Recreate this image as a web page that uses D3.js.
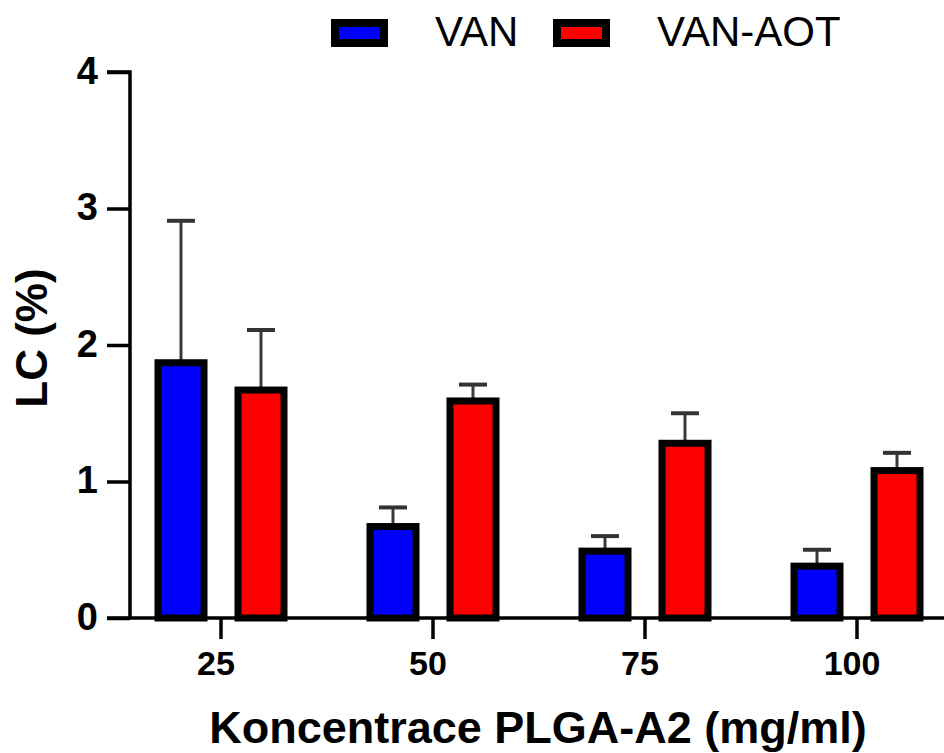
<!DOCTYPE html>
<html>
<head>
<meta charset="utf-8">
<script src="https://cdn.jsdelivr.net/npm/d3@7"></script>
<style>
	body { margin: 0; background: #fff; }
	svg { display: block; font-family: "Liberation Sans", Arial, sans-serif; }
</style>
</head>
<body>
<svg width="944" height="753"></svg>
<script>

//Chart data
const categories = ["25", "50", "75", "100"];
const series = ["VAN", "VAN-AOT"];
const vanValues = [1.87, 0.67, 0.49, 0.38];
const vanErrors = [1.04, 0.14, 0.11, 0.12];
const aotValues = [1.67, 1.59, 1.28, 1.08];
const aotErrors = [0.44, 0.12, 0.22, 0.13];
const colors = ["#0000ff", "#ff0000"];
const yTicks = [0, 1, 2, 3, 4];

const svg = d3.select('svg');

//Plot frame
const left = 130, baseY = 618, topY = 72;

const x0 = d3.scaleBand()
	.domain(categories)
	.range([115, 963])
	.paddingInner(0);

const x1 = d3.scaleBand()
	.domain(series)
	.range([-66.5, 66.5])
	.paddingInner(0.3375);

const y = d3.scaleLinear()
	.domain([0, 4])
	.range([baseY, topY]);

const rows = [];
categories.forEach(function(c, i) {
	rows.push({cat: c, s: series[0], v: vanValues[i], e: vanErrors[i], color: colors[0]});
	rows.push({cat: c, s: series[1], v: aotValues[i], e: aotErrors[i], color: colors[1]});
});

function cx(d) {
	return x0(d.cat) + x0.bandwidth() / 2 + x1(d.s) + x1.bandwidth() / 2;
}

//Error bars (upper only), drawn under the bars
const err = svg.append('g').attr('class', 'errors');
err.selectAll('line.stem')
	.data(rows)
	.join('line')
	.attr('class', 'stem')
	.attr('x1', cx)
	.attr('x2', cx)
	.attr('y1', d => y(d.v))
	.attr('y2', d => y(d.v + d.e))
	.attr('stroke', '#3a3a3a')
	.attr('stroke-width', 3);
err.selectAll('line.cap')
	.data(rows)
	.join('line')
	.attr('class', 'cap')
	.attr('x1', d => cx(d) - 14)
	.attr('x2', d => cx(d) + 14)
	.attr('y1', d => y(d.v + d.e))
	.attr('y2', d => y(d.v + d.e))
	.attr('stroke', '#333')
	.attr('stroke-width', 4);

//Bars
const barW = x1.bandwidth() - 7;
svg.append('g').attr('class', 'bars')
	.selectAll('rect')
	.data(rows)
	.join('rect')
	.attr('x', d => cx(d) - barW / 2)
	.attr('y', d => y(d.v))
	.attr('width', barW)
	.attr('height', d => y(0) - y(d.v))
	.attr('fill', d => d.color)
	.attr('stroke', '#000')
	.attr('stroke-width', 7);

//Y axis
const yAxis = svg.append('g')
	.attr('transform', 'translate(' + left + ',0)')
	.call(d3.axisLeft(y).tickValues(yTicks).tickFormat(d3.format('d')).tickSize(23).tickPadding(8));
yAxis.select('.domain').attr('d', 'M-23,' + topY + 'H0V' + baseY).attr('stroke-width', 3.5);
yAxis.selectAll('.tick line').attr('stroke-width', 3.5);
yAxis.selectAll('.tick text')
	.attr('font-size', 38)
	.attr('font-weight', 'bold')
	.attr('font-family', '"Liberation Sans", Arial, sans-serif')
	.attr('dx', -1)
	.attr('dy', '0.3em');

//X axis
const xAxis = svg.append('g')
	.attr('transform', 'translate(0,' + baseY + ')')
	.call(d3.axisBottom(x0).tickSize(21).tickPadding(12));
xAxis.select('.domain').attr('d', 'M107,0H944').attr('stroke-width', 3.5);
xAxis.selectAll('.tick line').attr('stroke-width', 3.5);
xAxis.selectAll('.tick text')
	.attr('font-size', 34)
	.attr('font-weight', 'bold')
	.attr('font-family', '"Liberation Sans", Arial, sans-serif')
	.attr('dx', -5);

//Axis titles
svg.append('text')
	.attr('x', 538)
	.attr('y', 743)
	.attr('text-anchor', 'middle')
	.attr('font-size', 45)
	.attr('font-weight', 'bold')
	.text('Koncentrace PLGA-A2 (mg/ml)');

svg.append('text')
	.attr('transform', 'translate(47,338) rotate(-90)')
	.attr('text-anchor', 'middle')
	.attr('font-size', 44)
	.attr('font-weight', 'bold')
	.text('LC (%)');

//Legend
const legendX = [335, 557];
const legendTextX = [435, 657];
const legend = svg.append('g').attr('class', 'legend');
series.forEach(function(s, i) {
	legend.append('rect')
		.attr('x', legendX[i])
		.attr('y', 23)
		.attr('width', 49)
		.attr('height', 20)
		.attr('fill', colors[i])
		.attr('stroke', '#000')
		.attr('stroke-width', 8);
	legend.append('text')
		.attr('x', legendTextX[i])
		.attr('y', 46)
		.attr('font-size', 42)
		.text(s);
});

</script>
</body>
</html>
